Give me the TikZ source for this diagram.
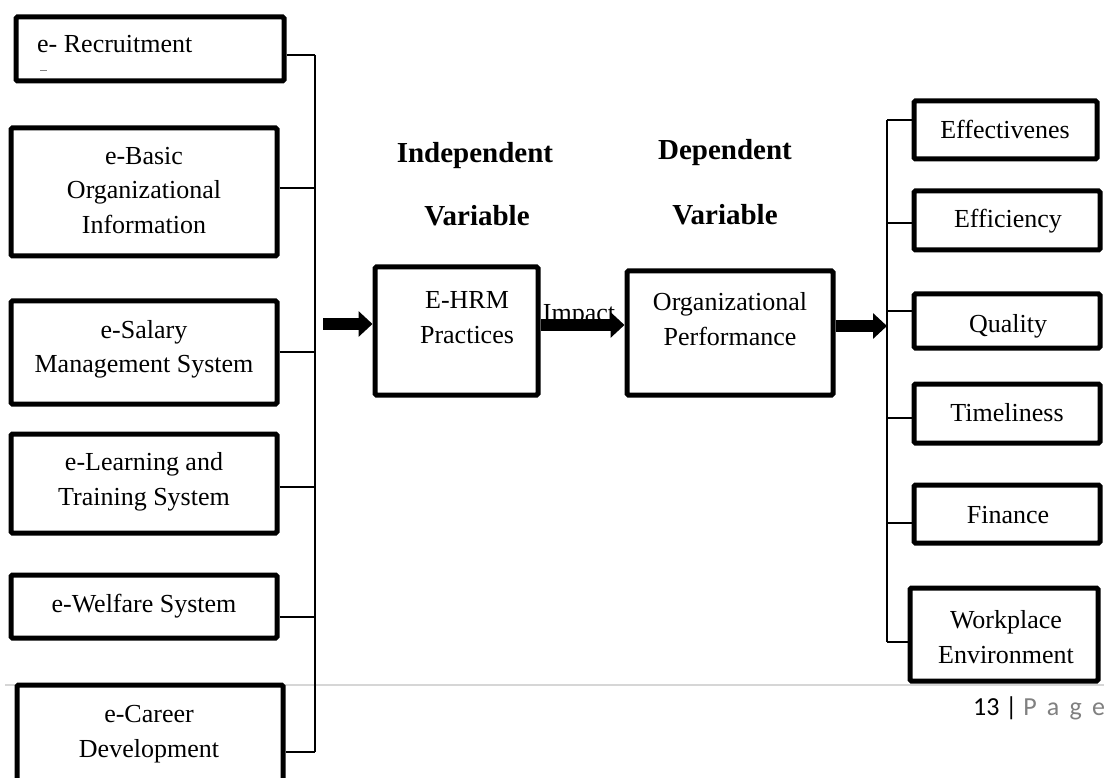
\documentclass[tikz,border=0pt]{standalone}
\usepackage{fontspec}
\setmainfont{Liberation Serif}
\newfontfamily\calib{Carlito}
\usetikzlibrary{arrows.meta}
\definecolor{pagegray}{HTML}{808080}
\definecolor{rulegray}{HTML}{D6D6D6}
\tikzset{
  box/.style={draw, line width=5pt, rounded corners=1.5pt, inner sep=0pt, fill=white},
  txt/.style={font=\fontsize{26}{35}\selectfont, align=center, inner sep=0pt, anchor=base},
  ttl/.style={font=\bfseries\fontsize{29}{35}\selectfont, inner sep=0pt, anchor=base},
  bus/.style={line width=1.5pt},
  bigarrow/.style={line width=12pt, -{Triangle[width=25pt,length=14pt]}}
}
\begin{document}
\begin{tikzpicture}[x=1pt,y=-1pt]
\useasboundingbox (0,0) rectangle (1104,778);
\fill[white] (0,0) rectangle (1104,778);
% page rule and footer
\coordinate (ruleL) at (5,685);
\coordinate (ruleR) at (1104,685);
\draw[rulegray, line width=1.2pt] (ruleL) -- (ruleR);
\node[font=\calib\fontsize{26}{30}\selectfont, anchor=base west, inner sep=0pt] (foot) at (973,715) {13 | \textcolor{pagegray}{P\,\ a\,\ g\,\ e}};

% left boxes
\node[box, minimum width=268pt, minimum height=64pt] (rec) at (150,49) {};
\node[box, minimum width=266pt, minimum height=128pt] (basic) at (144,192) {};
\node[box, minimum width=266pt, minimum height=103pt] (salary) at (144,352.5) {};
\node[box, minimum width=266pt, minimum height=99pt] (learn) at (144,483.5) {};
\node[box, minimum width=266pt, minimum height=63pt] (welf) at (144,606.5) {};
\node[box, minimum width=266pt, minimum height=133pt] (career) at (150,751.5) {};

\node[txt, anchor=base west] (rect) at (37,53) {e- Recruitment};
\draw[pagegray, line width=1pt] (40,71) -- (47,71);
\node[txt] (basict) at (144,234) {e-Basic\\Organizational\\Information};
\node[txt] (salaryt) at (144,373) {e-Salary\\Management System};
\node[txt] (learnt) at (144,505) {e-Learning and\\Training System};
\node[txt] (welft) at (144,612) {e-Welfare System};
\node[txt] (careert) at (149,757) {e-Career\\Development};

% left bus
\coordinate (lbt) at (315,55);
\coordinate (lbb) at (315,752);
\draw[bus] (lbt) -- (lbb);
\draw[bus] ([yshift=-6pt]rec.east) -- ([yshift=-6pt]rec.east -| lbt);
\draw[bus] ([yshift=4pt]basic.east) -- ([yshift=4pt]basic.east -| lbt);
\draw[bus] ([yshift=0.5pt]salary.east) -- ([yshift=0.5pt]salary.east -| lbt);
\draw[bus] ([yshift=-3.5pt]learn.east) -- ([yshift=-3.5pt]learn.east -| lbt);
\draw[bus] ([yshift=-10.5pt]welf.east) -- ([yshift=-10.5pt]welf.east -| lbt);
\draw[bus] ([yshift=-0.5pt]career.east) -- ([yshift=-0.5pt]career.east -| lbt);

% titles
\node[ttl] (indep) at (475,163) {Independent};
\node[ttl] (indepv) at (477,226) {Variable};
\node[ttl] (dep) at (725,160) {Dependent};
\node[ttl] (depv) at (725,225) {Variable};

% middle boxes
\node[box, minimum width=163pt, minimum height=128pt] (hrm) at (456.5,331) {};
\node[box, minimum width=206pt, minimum height=124pt] (org) at (730,333) {};
\node[txt] (hrmt) at (467,343) {E-HRM\\Practices};
\node[txt] (orgt) at (730,345) {Organizational\\Performance};
\node[txt] (impact) at (579,322) {Impact};

% arrows
\coordinate (la) at (323,324);
\draw[bigarrow] (la) -- (la -| hrm.west);
\draw[bigarrow] ([yshift=6pt]hrm.east) -- ([yshift=6pt]hrm.east -| org.west);
\coordinate (rbt) at (887,120);
\coordinate (rbb) at (887,642);
\draw[bigarrow] ([yshift=7pt]org.east) -- ([yshift=7pt]org.east -| rbt);

% right boxes
\node[box, minimum width=183pt, minimum height=58pt] (eff) at (1005.5,130) {};
\node[box, minimum width=186pt, minimum height=59pt] (effi) at (1007,220.5) {};
\node[box, minimum width=186pt, minimum height=54pt] (qual) at (1007,321) {};
\node[box, minimum width=186pt, minimum height=59pt] (time) at (1007,413.5) {};
\node[box, minimum width=186pt, minimum height=58pt] (fin) at (1007,514) {};
\node[box, minimum width=188pt, minimum height=93pt] (work) at (1004,634.5) {};

\node[txt] (efft) at (1005,139) {Effectivenes};
\node[txt] (effit) at (1008,228) {Efficiency};
\node[txt] (qualt) at (1008,333) {Quality};
\node[txt] (timet) at (1007,421) {Timeliness};
\node[txt] (fint) at (1008,523) {Finance};
\node[txt] (workt) at (1006,663) {Workplace\\Environment};

% right bus
\draw[bus] (rbt) -- (rbb);
\draw[bus] ([yshift=10pt]eff.west) -- ([yshift=10pt]eff.west -| rbt);
\draw[bus] ([yshift=-2.5pt]effi.west) -- ([yshift=-2.5pt]effi.west -| rbt);
\draw[bus] ([yshift=10pt]qual.west) -- ([yshift=10pt]qual.west -| rbt);
\draw[bus] ([yshift=-4.5pt]time.west) -- ([yshift=-4.5pt]time.west -| rbt);
\draw[bus] ([yshift=-9pt]fin.west) -- ([yshift=-9pt]fin.west -| rbt);
\draw[bus] ([yshift=-7.5pt]work.west) -- ([yshift=-7.5pt]work.west -| rbt);
\end{tikzpicture}
\end{document}
